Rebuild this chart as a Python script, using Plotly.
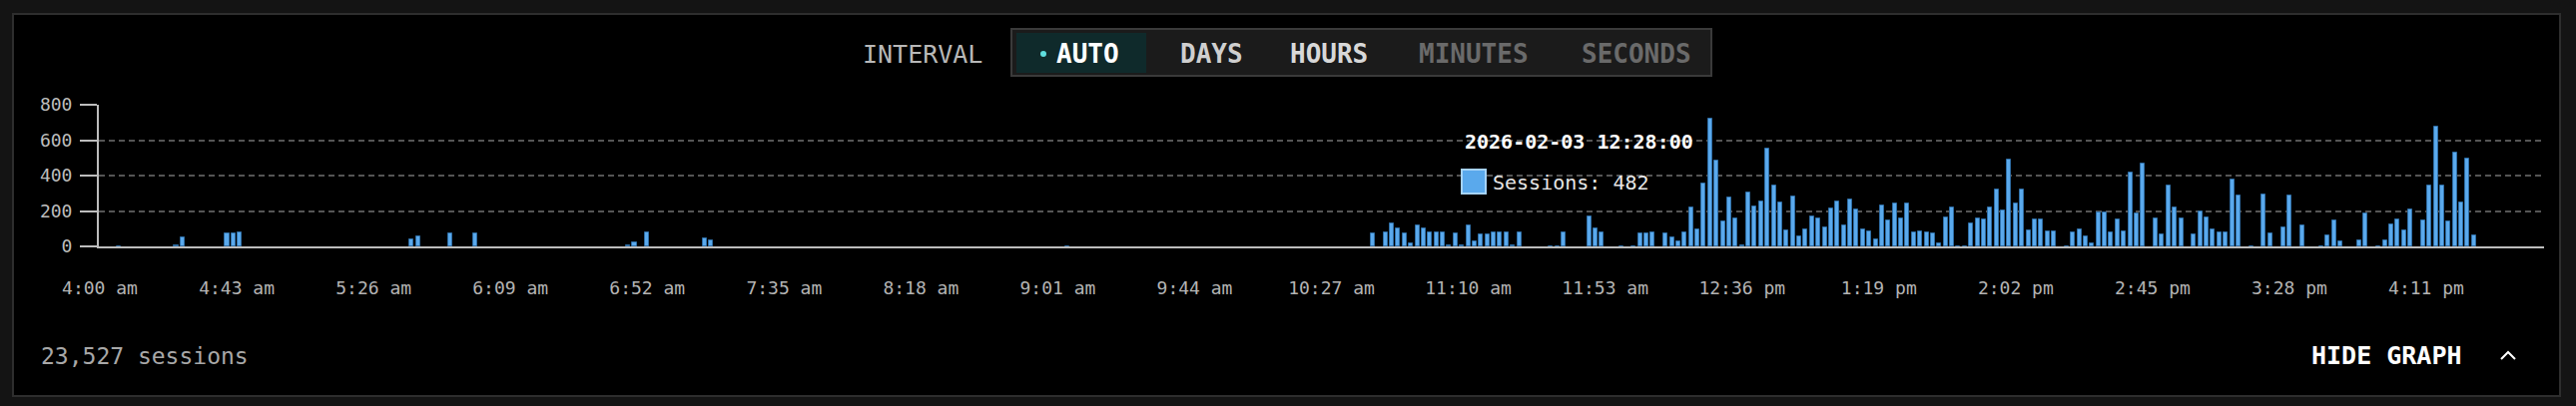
import plotly.graph_objects as go

# ---------------- data ----------------
DAY = "2026-02-03"
bin_times = [
    "04:06", "04:24", "04:26", "04:40", "04:42", "04:44", "05:38", "05:40", "05:50", "05:58",
    "06:46", "06:48", "06:52", "07:10", "07:12", "09:04",
    "10:40", "10:44", "10:46", "10:48", "10:50", "10:52", "10:54", "10:56", "10:58", "11:00",
    "11:02", "11:04", "11:06", "11:08", "11:10", "11:12", "11:14", "11:16", "11:18", "11:20",
    "11:22", "11:24", "11:26", "11:36", "11:38", "11:40", "11:48", "11:50", "11:52", "11:58",
    "12:02", "12:04", "12:06", "12:08", "12:12", "12:14", "12:16", "12:18", "12:20", "12:22",
    "12:24", "12:26", "12:28", "12:30", "12:32", "12:34", "12:36", "12:38", "12:40", "12:42",
    "12:44", "12:46", "12:48", "12:50", "12:52", "12:54", "12:56", "12:58", "13:00", "13:02",
    "13:04", "13:06", "13:08", "13:10", "13:12", "13:14", "13:16", "13:18", "13:20", "13:22",
    "13:24", "13:26", "13:28", "13:30", "13:32", "13:34", "13:36", "13:38", "13:40", "13:42",
    "13:44", "13:46", "13:48", "13:50", "13:52", "13:54", "13:56", "13:58", "14:00", "14:02",
    "14:04", "14:06", "14:08", "14:10", "14:12", "14:14", "14:18", "14:20", "14:22", "14:24",
    "14:26", "14:28", "14:30", "14:32", "14:34", "14:36", "14:38", "14:40", "14:42", "14:46",
    "14:48", "14:50", "14:52", "14:54", "14:58", "15:00", "15:02", "15:04", "15:06", "15:08",
    "15:10", "15:12", "15:16", "15:20", "15:22", "15:26", "15:28", "15:32", "15:38", "15:40",
    "15:42", "15:44", "15:50", "15:52", "15:56", "15:58", "16:00", "16:02", "16:04", "16:06",
    "16:10", "16:12", "16:14", "16:16", "16:18", "16:20", "16:22", "16:24", "16:26",
]
sessions = [
    1, 8, 52, 76, 76, 78, 41, 57, 74, 74,
    3, 20, 78, 44, 35, 2,
    76, 80, 130, 102, 76, 18, 117, 104, 80, 80,
    80, 5, 74, 3, 118, 30, 65, 68, 80, 80,
    80, 3, 81, 2, 2, 78, 170, 104, 80, 2,
    2, 76, 76, 80, 76, 52, 26, 80, 222, 94,
    357, 722, 482, 143, 274, 156, 5, 307, 226, 252,
    552, 344, 248, 89, 281, 57, 96, 170, 159, 107,
    213, 252, 120, 263, 206, 93, 87, 37, 231, 146,
    241, 159, 243, 80, 85, 78, 74, 15, 163, 220,
    2, 2, 130, 159, 154, 222, 319, 202, 491, 243,
    319, 89, 152, 152, 83, 85, 2, 80, 94, 54,
    15, 194, 189, 81, 152, 87, 415, 187, 469, 157,
    70, 343, 222, 157, 65, 196, 163, 93, 81, 80,
    380, 289, 2, 291, 74, 106, 289, 119, 2, 61,
    148, 28, 35, 185, 2, 35, 124, 150, 89, 211,
    146, 341, 674, 341, 139, 528, 248, 496, 63,
]
tick_times = ["04:00", "04:43", "05:26", "06:09", "06:52", "07:35", "08:18", "09:01", "09:44",
              "10:27", "11:10", "11:53", "12:36", "13:19", "14:02", "14:45", "15:28", "16:11"]
tick_labels = ["4:00 am", "4:43 am", "5:26 am", "6:09 am", "6:52 am", "7:35 am", "8:18 am",
               "9:01 am", "9:44 am", "10:27 am", "11:10 am", "11:53 am", "12:36 pm", "1:19 pm",
               "2:02 pm", "2:45 pm", "3:28 pm", "4:11 pm"]
y_ticks = [0, 200, 400, 600, 800]
interval_options = ["AUTO", "DAYS", "HOURS", "MINUTES", "SECONDS"]
total_label = "23,527 sessions"
tooltip_time = "2026-02-03 12:28:00"
tooltip_value = 482

# ---------------- layout geometry ----------------
W, H = 2580, 407
L, R, T, B = 99, 2548, 105, 247
FONT = "DejaVu Sans Mono"


def px(x):
    return (x - L) / (R - L)


def py(y):
    return (B - y) / (B - T)


fig = go.Figure()
fig.add_trace(go.Bar(
    x=[f"{DAY} {t}" for t in bin_times],
    y=sessions,
    width=76000,
    marker=dict(color="#5aa9ec", line=dict(color="#2f6ea6", width=1)),
    hoverinfo="skip",
    name="Sessions",
))

shapes = []
annotations = []

# outer panel
shapes.append(dict(type="rect", xref="paper", yref="paper", layer="below",
                   x0=px(13), x1=px(2564), y0=py(14), y1=py(397),
                   fillcolor="#000000", line=dict(color="#2e2e2e", width=2)))
# interval button group
shapes.append(dict(type="rect", xref="paper", yref="paper",
                   x0=px(1013), x1=px(1714), y0=py(29), y1=py(76),
                   fillcolor="#1b1b1b", line=dict(color="#3a3a3a", width=2)))
shapes.append(dict(type="rect", xref="paper", yref="paper",
                   x0=px(1018), x1=px(1148), y0=py(33), y1=py(73),
                   fillcolor="#0f2a2b", line=dict(width=0)))
shapes.append(dict(type="circle", xref="paper", yref="paper",
                   x0=px(1042), x1=px(1048), y0=py(51), y1=py(57),
                   fillcolor="#5fdede", line=dict(width=0)))
# tooltip swatch
shapes.append(dict(type="rect", xref="paper", yref="paper",
                   x0=px(1464), x1=px(1488), y0=py(170), y1=py(194),
                   fillcolor="#5aa9ec", line=dict(color="#a6d3f7", width=2)))
# hide graph caret
shapes.append(dict(type="path", xref="paper", yref="paper",
                   path=f"M {px(2505)},{py(360)} L {px(2512)},{py(353)} L {px(2519)},{py(360)}",
                   line=dict(color="#ffffff", width=2)))


def text(x, y, s, size, color, weight="normal", xanchor="center"):
    annotations.append(dict(xref="paper", yref="paper", x=px(x), y=py(y), text=s,
                            showarrow=False, xanchor=xanchor, yanchor="middle",
                            font=dict(family=FONT, size=size, color=color, weight=weight)))


text(924, 54, "INTERVAL", 25, "#b8b8b8")
btn_x = [1089, 1213, 1331, 1476, 1639]
btn_col = ["#ffffff", "#cfcfcf", "#d8d8d8", "#6a6a6a", "#6a6a6a"]
for name, bx, bc in zip(interval_options, btn_x, btn_col):
    text(bx, 54, name, 26, bc, weight="bold")

text(1465, 142, tooltip_time, 20, "#ffffff", weight="bold", xanchor="left")
text(1493, 183, f"Sessions: {tooltip_value}", 20, "#e6e6e6", xanchor="left")

text(39, 357, total_label, 23, "#a8a8a8", xanchor="left")
text(2390, 356, "HIDE GRAPH", 25, "#ffffff", weight="bold")

fig.update_layout(
    width=W, height=H, autosize=False,
    margin=dict(l=L, r=W - R, t=T, b=H - B, pad=0),
    paper_bgcolor="#141414", plot_bgcolor="rgba(0,0,0,0)",
    showlegend=False, bargap=0,
    shapes=shapes, annotations=annotations,
    font=dict(family=FONT, color="#bdbdbd"),
)
fig.update_xaxes(
    type="date",
    range=[f"{DAY} 03:59:41", f"{DAY} 16:48:01"],
    tickvals=[f"{DAY} {t}" for t in tick_times], ticktext=tick_labels,
    ticks="", ticklabelstandoff=24,
    tickfont=dict(family=FONT, size=18, color="#b4b4b4"),
    showgrid=False, zeroline=False,
    showline=True, linecolor="#bdbdbd", linewidth=2,
    fixedrange=True,
)
fig.update_yaxes(
    range=[0, 800], tickvals=y_ticks,
    ticks="outside", ticklen=17, tickwidth=2, tickcolor="#bdbdbd",
    ticklabelstandoff=4,
    tickfont=dict(family=FONT, size=18, color="#bdbdbd"),
    showgrid=True, gridcolor="#555555", gridwidth=1.5, griddash="6px,4px",
    zeroline=False,
    showline=True, linecolor="#bdbdbd", linewidth=2,
    fixedrange=True,
)

fig.write_html(
    "out.html",
    config={"displayModeBar": False},
    post_script="document.body.style.margin='0';document.body.style.background='#141414';"
                "document.documentElement.style.overflow='hidden';",
)
